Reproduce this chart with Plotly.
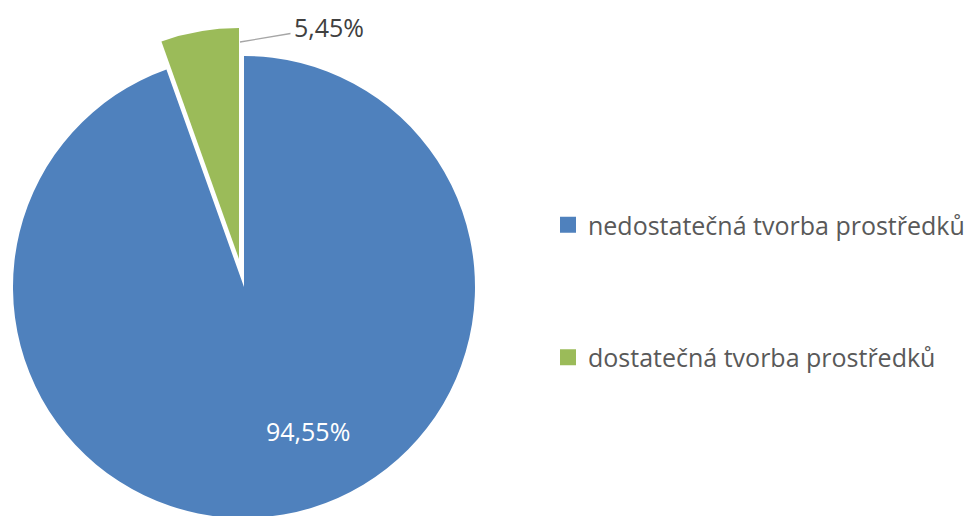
import plotly.graph_objects as go

categories = ["nedostatečná tvorba prostředků", "dostatečná tvorba prostředků"]
values = [94.55, 5.45]
colors = ["#4F81BD", "#9BBB59"]

W, H = 973, 516
total = sum(values)
pct_labels = [f"{v / total * 100:.2f}%".replace(".", ",") for v in values]

# pie geometry (pixels) -> paper domains
cx, cy, r = 236, 279, 231
pull_dx, pull_dy = -5, -28

def dom(cx, cy, r):
    return dict(x=[(cx - r) / W, (cx + r) / W],
                y=[max(0, (H - (cy + r)) / H), min(1, (H - (cy - r)) / H)])

fig = go.Figure()

# main pie: large slice drawn in place, small slice left empty
fig.add_trace(go.Pie(
    labels=categories, values=values,
    marker=dict(colors=[colors[0], "rgba(0,0,0,0)"],
                line=dict(color="white", width=[0, 0])),
    sort=False, direction="clockwise", rotation=0,
    textinfo="none",
    showlegend=False, hoverinfo="label+percent",
    domain=dom(cx, cy, r),
))

# exploded small slice
fig.add_trace(go.Pie(
    labels=categories, values=values,
    marker=dict(colors=["rgba(0,0,0,0)", colors[1]],
                line=dict(color="white", width=[0, 0])),
    sort=False, direction="clockwise", rotation=0,
    textinfo="none",
    showlegend=False, hoverinfo="label+percent",
    domain=dom(cx + pull_dx, cy + pull_dy, r),
))

# legend entries
for i, (name, col) in enumerate(zip(categories, colors)):
    fig.add_trace(go.Scatter(
        x=[None], y=[None], mode="markers", name=name,
        marker=dict(symbol="square", size=16, color=col),
        legendgroup=f"g{i}", showlegend=True,
    ))

# data labels
fig.add_annotation(
    xref="paper", yref="paper", x=300 / W, y=1 - 423 / H,
    xanchor="center", yanchor="middle",
    text=pct_labels[0], showarrow=False,
    font=dict(size=25, color="white", family="Open Sans"),
)
fig.add_annotation(
    xref="paper", yref="paper",
    x=232 / W, y=1 - 34 / H,
    ax=89, ay=-15,
    text=pct_labels[1], showarrow=True, arrowhead=0, arrowwidth=1.3,
    arrowcolor="#A6A6A6", standoff=0, startstandoff=2,
    font=dict(size=25, color="#404040", family="Open Sans"),
)

fig.update_layout(
    width=W, height=H,
    margin=dict(l=0, r=0, t=0, b=0),
    paper_bgcolor="white", plot_bgcolor="white",
    separators=", ",
    font=dict(family="Open Sans", color="#595959"),
    xaxis=dict(visible=False), yaxis=dict(visible=False),
    legend=dict(
        x=540 / W, xanchor="left", y=1 - 283 / H, yanchor="middle",
        traceorder="grouped", tracegroupgap=97,
        font=dict(size=25, color="#595959", family="Open Sans"),
        bgcolor="rgba(0,0,0,0)",
    ),
)

fig.write_html("out.html")
